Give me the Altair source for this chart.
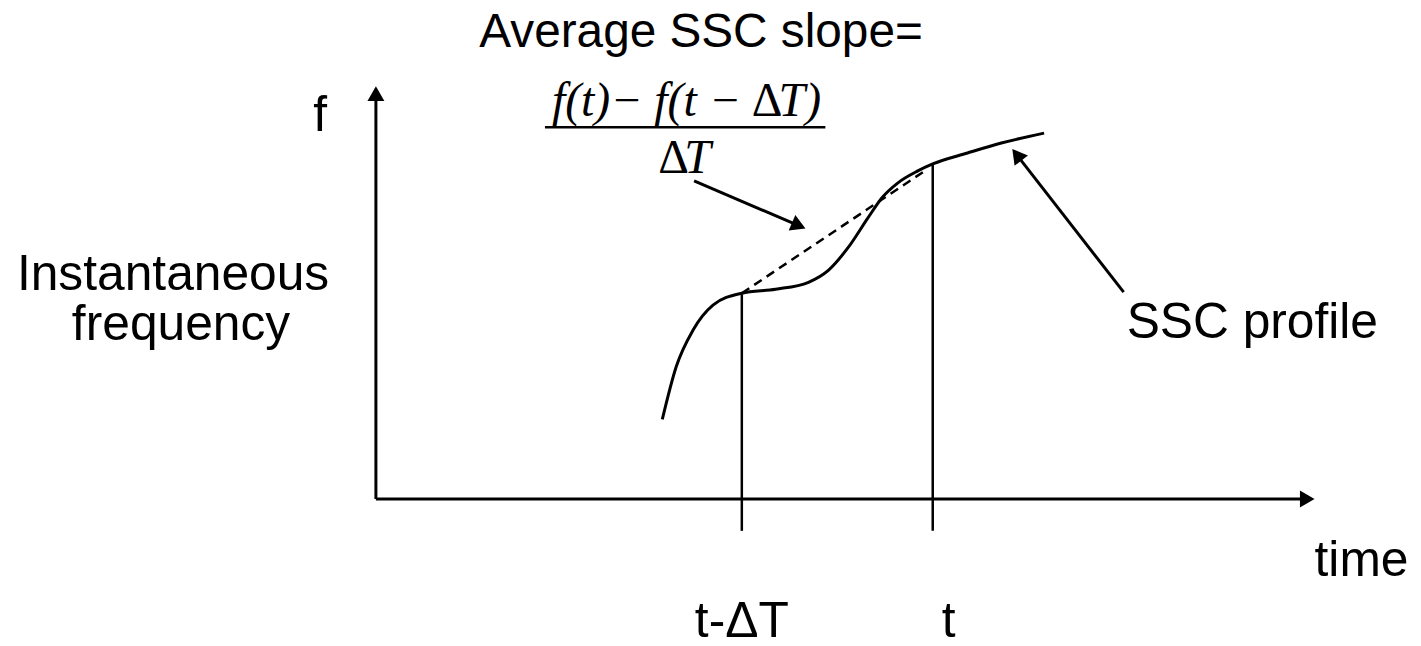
import math
import altair as alt
import pandas as pd

# ---- data (time / frequency units, origin at the axes corner) ----
# SSC profile curve
curve_t = [288, 302, 319, 339, 368, 402, 435, 455, 475, 495, 509, 525, 545, 560, 595, 629, 672]
curve_f = [80, 133, 170, 195, 207, 211, 218, 230, 253, 283, 303, 318, 330, 337, 348, 358, 368]

# dashed chord between t-dT and t
chord_t = [368, 552]
chord_f = [207, 330]

# plain segments: two time markers + fraction bar
seg_t1 = [368, 560, 170]
seg_f1 = [207, 337, 374]
seg_t2 = [368, 560, 452]
seg_f2 = [-32, -32, 374]

# arrows: axes, slope pointer, profile pointer
arrow_tail_t = [0, 0, 320, 752]
arrow_tail_f = [0, 0, 320, 208]
arrow_tip_t = [0, 944, 432, 640]
arrow_tip_f = [415, 0, 272, 352]
arrow_head_w = [17, 17, 17, 17]

# texts
sans_c_text = ["Average SSC slope=", "Instantaneous", "frequency", "t-\u0394T", "t", "f"]
sans_c_t = [327, -204, -196, 368, 576, -56]
sans_c_f = [455, 210, 160, -139, -139, 370]
sans_c_size = [48, 50, 50, 50, 50, 50]

sans_l_text = ["SSC profile", "time"]
sans_l_t = [755, 944]
sans_l_f = [162, -77]
sans_l_size = [50, 50]

# formula pieces (left aligned)
ital_text = ["f(t)\u2212 f(t \u2212", "T)", "T"]
ital_t = [177, 405, 310]
ital_f = [385, 385, 328]
ital_size = [48, 48, 48]

upright_text = ["\u0394", "\u0394"]
upright_t = [378, 284]
upright_f = [385, 328]
upright_size = [48, 48]

# ---- build tables ----
curve = pd.DataFrame({"t": curve_t, "f": curve_f})
chord = pd.DataFrame({"t": [chord_t[0]], "f": [chord_f[0]], "t2": [chord_t[1]], "f2": [chord_f[1]]})
segs = pd.DataFrame({"t": seg_t1, "f": seg_f1, "t2": seg_t2, "f2": seg_f2})

shafts, heads = [], []
for tt, tf, pt, pf, w in zip(arrow_tail_t, arrow_tail_f, arrow_tip_t, arrow_tip_f, arrow_head_w):
    dx, dy = pt - tt, pf - tf
    n = math.hypot(dx, dy)
    ux, uy = dx / n, dy / n
    size = w * w
    h = math.sqrt(3) / 2 * (w / 2)
    cx, cy = pt - h * ux, pf - h * uy
    ang = math.degrees(math.atan2(dx, dy)) % 360
    shafts.append({"t": tt, "f": tf, "t2": cx, "f2": cy})
    heads.append({"t": cx, "f": cy, "angle": ang, "size": size})
shafts = pd.DataFrame(shafts)
heads = pd.DataFrame(heads)

sans_c = pd.DataFrame({"t": sans_c_t, "f": sans_c_f, "label": sans_c_text, "size": sans_c_size})
sans_l = pd.DataFrame({"t": sans_l_t, "f": sans_l_f, "label": sans_l_text, "size": sans_l_size})
ital = pd.DataFrame({"t": ital_t, "f": ital_f, "label": ital_text, "size": ital_size})
upright = pd.DataFrame({"t": upright_t, "f": upright_f, "label": upright_text, "size": upright_size})

X = alt.Scale(domain=[-370, 1043], nice=False, zero=False)
Y = alt.Scale(domain=[-146, 492], nice=False, zero=False)


def pos():
    return dict(
        x=alt.X("t:Q", scale=X, axis=None),
        y=alt.Y("f:Q", scale=Y, axis=None),
    )


def seg_enc():
    enc = pos()
    enc["x2"] = alt.X2("t2:Q")
    enc["y2"] = alt.Y2("f2:Q")
    return enc


def text_enc():
    enc = pos()
    enc["text"] = alt.Text("label:N")
    enc["size"] = alt.Size("size:Q", scale=None)
    return enc


curve_layer = alt.Chart(curve).mark_line(color="black", strokeWidth=3, interpolate="monotone").encode(
    order="t:Q", **pos())
chord_layer = alt.Chart(chord).mark_rule(color="black", strokeWidth=2.5, strokeDash=[9, 6]).encode(**seg_enc())
seg_layer = alt.Chart(segs).mark_rule(color="black", strokeWidth=2.5).encode(**seg_enc())
shaft_layer = alt.Chart(shafts).mark_rule(color="black", strokeWidth=3).encode(**seg_enc())
head_layer = alt.Chart(heads).mark_point(shape="triangle-up", filled=True, color="black", opacity=1, strokeWidth=0).encode(
    angle=alt.Angle("angle:Q", scale=None), size=alt.Size("size:Q", scale=None), **pos())

sans_c_layer = alt.Chart(sans_c).mark_text(
    font="Liberation Sans", align="center", baseline="alphabetic", color="black").encode(**text_enc())
sans_l_layer = alt.Chart(sans_l).mark_text(
    font="Liberation Sans", align="left", baseline="alphabetic", color="black").encode(**text_enc())
ital_layer = alt.Chart(ital).mark_text(
    font="Liberation Serif", fontStyle="italic", align="left", baseline="alphabetic", color="black").encode(**text_enc())
upright_layer = alt.Chart(upright).mark_text(
    font="Liberation Serif", align="left", baseline="alphabetic", color="black").encode(**text_enc())

chart = alt.layer(
    curve_layer, chord_layer, seg_layer, shaft_layer, head_layer,
    sans_c_layer, sans_l_layer, ital_layer, upright_layer,
).properties(
    width=1413, height=638, padding=0,
    autosize=alt.AutoSizeParams(type="none"),
).configure(background="white", view=alt.ViewConfig(strokeWidth=0))

chart.save("out.html", embed_options={"renderer": "svg", "actions": False})
